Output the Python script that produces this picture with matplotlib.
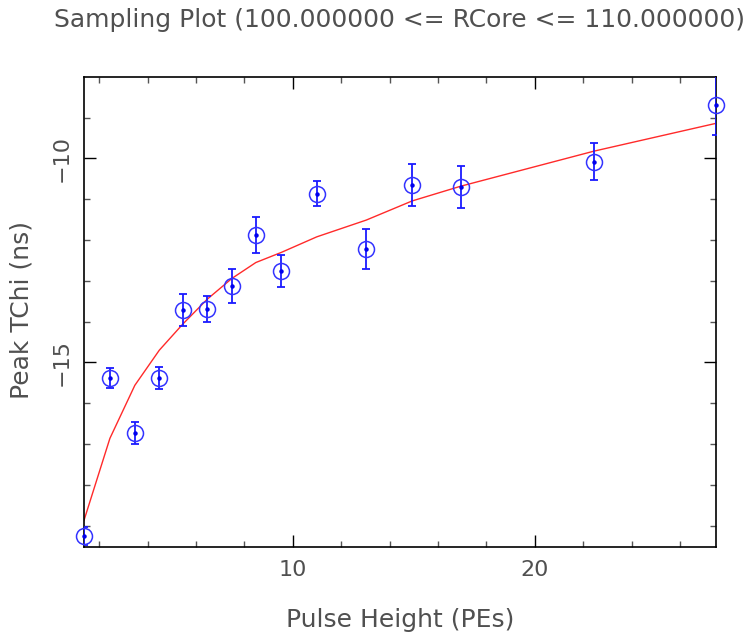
import matplotlib
matplotlib.use("Agg")
import matplotlib.pyplot as plt
from matplotlib.ticker import MultipleLocator

# Data
pulse_height = [1.37, 2.44, 3.47, 4.48, 5.45, 6.46, 7.48, 8.47, 9.53, 10.99, 13.03, 14.93, 16.93, 22.44, 27.47]
peak_tchi = [-19.25, -15.38, -16.72, -15.38, -13.72, -13.69, -13.12, -11.88, -12.76, -10.86, -12.21, -10.65, -10.70, -10.08, -8.69]
peak_err = [0.22, 0.25, 0.27, 0.26, 0.39, 0.33, 0.41, 0.44, 0.39, 0.31, 0.49, 0.51, 0.52, 0.45, 0.73]
fit_curve = [-18.87, -16.86, -15.56, -14.70, -14.06, -13.45, -12.94, -12.55, -12.30, -11.92, -11.51, -11.04, -10.68, -9.82, -9.14]

title = "Sampling Plot (100.000000 <= RCore <= 110.000000)"
xlabel = "Pulse Height (PEs)"
ylabel = "Peak TChi (ns)"

text_color = "#505050"
plt.rcParams['font.family'] = ['DejaVu Sans']

fig = plt.figure(figsize=(7.49, 6.40), dpi=100)
ax = fig.add_axes([84/749, 1-547.3/640, (715.7-84)/749, (547.3-77.3)/640])

ax.plot(pulse_height, fit_curve, color="#ff2a2a", lw=1.0, zorder=2)
ax.errorbar(pulse_height, peak_tchi, yerr=peak_err, fmt='none', ecolor="#1a1aff",
            elinewidth=1.3, capsize=3.2, capthick=1.3, zorder=3)
ax.plot(pulse_height, peak_tchi, linestyle='none', marker='o', markersize=11.5,
        markerfacecolor='none', markeredgecolor="#3333ff", markeredgewidth=1.1,
        clip_on=False, zorder=4)
ax.plot(pulse_height, peak_tchi, linestyle='none', marker='o', markersize=2.2,
        color="#0000ee", clip_on=False, zorder=5)

ax.set_xlim(1.37, 27.47)
ax.set_ylim(-19.53, -8.01)

ax.xaxis.set_major_locator(MultipleLocator(10))
ax.xaxis.set_minor_locator(MultipleLocator(2))
ax.yaxis.set_major_locator(MultipleLocator(5))
ax.yaxis.set_minor_locator(MultipleLocator(1))

ax.tick_params(which='both', direction='in', top=True, right=True, colors='black',
               labelcolor=text_color, labelsize=16)
ax.tick_params(which='major', length=8.6, width=1.0)
ax.tick_params(which='minor', length=4.3, width=1.0, color='#555555')
ax.tick_params(axis='x', which='major', pad=9)
ax.tick_params(axis='y', which='major', pad=9)
for lab in ax.get_yticklabels():
    lab.set_rotation(90)
    lab.set_va('center')

for s in ax.spines.values():
    s.set_linewidth(1.2)
    s.set_color('black')

fig.text(400/749, 1-20/640, title, ha='center', va='center', fontsize=18, color=text_color)
fig.text(400/749, 1-620/640, xlabel, ha='center', va='center', fontsize=18, color=text_color)
fig.text(22/749, 1-310/640, ylabel, ha='center', va='center', rotation=90, fontsize=18, color=text_color)

fig.savefig("out.png", dpi=100)
